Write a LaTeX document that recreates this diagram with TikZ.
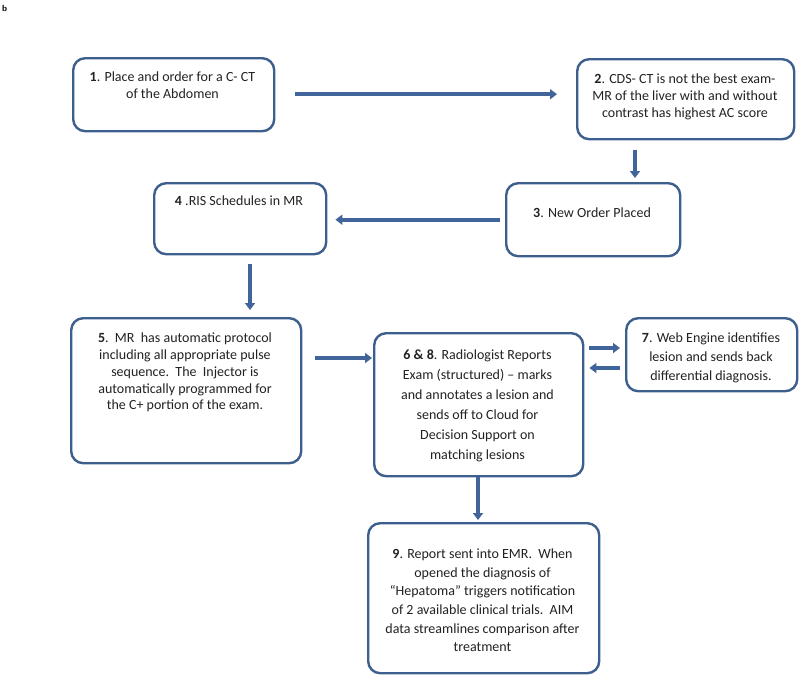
\documentclass[tikz,border=0pt]{standalone}
\usepackage{fontspec}
\setmainfont{Carlito}
\usetikzlibrary{arrows.meta,calc}
\definecolor{boxblue}{HTML}{3D5F8E}
\definecolor{arrblue}{HTML}{41649A}
\definecolor{txt}{HTML}{222222}
\tikzset{
  flowbox/.style={draw=boxblue,line width=2.4pt,rounded corners=12pt,fill=white,inner sep=0pt,anchor=north west},
  boxtext/.style={text=txt,align=center,inner sep=0pt,anchor=north,font=\fontsize{14}{#1}\selectfont},
  flowarrow/.style={draw=arrblue,line width=3.6pt,-{Triangle[length=7pt,width=10pt]}},
}
\begin{document}
\begin{tikzpicture}[x=1pt,y=-1pt]
\useasboundingbox (0,0) rectangle (800,675);
\node[anchor=north west,inner sep=0pt,font=\sffamily\bfseries\fontsize{9}{10}\selectfont] (lab) at (2,5) {b};

% boxes
\node[flowbox,minimum width=201pt,minimum height=73pt] (b1) at (72,57) {};
\node[flowbox,minimum width=217pt,minimum height=80pt] (b2) at (576,58) {};
\node[flowbox,minimum width=174pt,minimum height=73pt] (b3) at (505,182) {};
\node[flowbox,minimum width=172pt,minimum height=71pt] (b4) at (153,182) {};
\node[flowbox,minimum width=230pt,minimum height=145pt] (b5) at (70,317) {};
\node[flowbox,minimum width=209pt,minimum height=143pt] (b6) at (373,332) {};
\node[flowbox,minimum width=171pt,minimum height=73pt] (b7) at (625,317) {};
\node[flowbox,minimum width=231pt,minimum height=150pt] (b9) at (367,522) {};

% texts
\node[boxtext=17] (t1) at (172.5,71.5) {\textbf{1}. Place and order for a C- CT\\of the Abdomen};
\node[boxtext=17] (t2) at (685,74) {\textbf{2}. CDS- CT is not the best exam-\\MR of the liver with and without\\contrast has highest AC score};
\node[boxtext=17] (t3) at (592,208) {\textbf{3}. New Order Placed};
\node[boxtext=17] (t4) at (239,196) {\textbf{4} .RIS Schedules in MR};
\node[boxtext=16.7] (t5) at (185,333) {\textbf{5}.\ \ MR\ \ has automatic protocol\\including all appropriate pulse\\sequence.\ \ The\ \ Injector is\\automatically programmed for\\the C+ portion of the exam.};
\node[boxtext=20] (t6) at (477.5,350) {\textbf{6 \& 8}. Radiologist Reports\\Exam (structured) -- marks\\and annotates a lesion and\\sends off to Cloud for\\Decision Support on\\matching lesions};
\node[boxtext=19] (t7) at (711,333) {\textbf{7}. Web Engine identifies\\lesion and sends back\\differential diagnosis.};
\node[boxtext=18.7] (t9) at (482.5,548.5) {\textbf{9}. Report sent into EMR.\ \ When\\opened the diagnosis of\\``Hepatoma'' triggers notification\\of 2 available clinical trials.\ \ AIM\\data streamlines comparison after\\treatment};

% connectors
\draw[flowarrow] ($(b1.east)+(20,-0.5)$) -- ($(b2.west |- b1.east)+(-19,-0.5)$);
\coordinate (c23a) at ($(b2.south -| 635,0)+(0,10)$);
\coordinate (c23b) at ($(b3.north -| 635,0)+(0,-4)$);
\draw[flowarrow] (c23a) -- (c23b);
\draw[flowarrow] ($(b3.west)+(-5,0)$) -- ($(b4.east |- b3.west)+(8,0)$);
\coordinate (c45a) at ($(b4.south -| 250,0)+(0,9)$);
\coordinate (c45b) at ($(b5.north -| 250,0)+(0,-7)$);
\draw[flowarrow] (c45a) -- (c45b);
\coordinate (c56a) at ($(b5.east |- 0,358)+(13,0)$);
\coordinate (c56b) at ($(b6.west |- 0,358)+(-1,0)$);
\draw[flowarrow] (c56a) -- (c56b);
\coordinate (c67a) at ($(b6.east |- 0,348)+(5,0)$);
\coordinate (c67b) at ($(b7.west |- 0,348)+(-5,0)$);
\draw[flowarrow] (c67a) -- (c67b);
\coordinate (c76a) at ($(b7.west |- 0,368)+(-5,0)$);
\coordinate (c76b) at ($(b6.east |- 0,368)+(5,0)$);
\draw[flowarrow] (c76a) -- (c76b);
\coordinate (c69a) at (b6.south -| 478,0);
\coordinate (c69b) at ($(b9.north -| 478,0)+(0,-2)$);
\draw[flowarrow] (c69a) -- (c69b);
\end{tikzpicture}
\end{document}
